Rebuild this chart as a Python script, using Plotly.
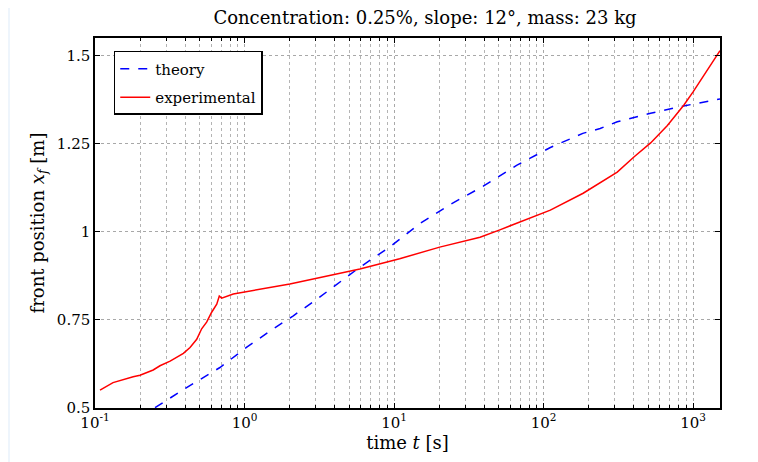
import plotly.graph_objects as go

# theory curve (blue dashed)
t_theory = [0.252, 0.41, 0.685, 1.03, 1.56, 2.12, 2.96, 3.93, 5.91, 9.35, 14.9,
            23.7, 39.5, 66, 111, 183, 239, 311, 520, 866, 1440, 1514]
x_theory = [0.501, 0.558, 0.615, 0.672, 0.725, 0.762, 0.805, 0.843, 0.900, 0.957, 1.024,
            1.078, 1.130, 1.189, 1.240, 1.280, 1.294, 1.313, 1.337, 1.358, 1.377, 1.378]

# experimental curve (red solid)
t_exp = [0.108, 0.132, 0.18, 0.2, 0.245, 0.272, 0.318, 0.361, 0.39, 0.432, 0.479,
         0.517, 0.558, 0.603, 0.652, 0.678, 0.703, 0.841, 0.981, 2.01, 5.91, 10.9,
         20.2, 37.6, 51, 111, 184, 239, 311, 402, 520, 671, 866, 1000, 1240, 1514]
x_exp = [0.551, 0.572, 0.589, 0.593, 0.608, 0.620, 0.633, 0.648, 0.655, 0.672, 0.695,
         0.725, 0.744, 0.772, 0.795, 0.818, 0.812, 0.824, 0.829, 0.852, 0.895, 0.924,
         0.957, 0.985, 1.006, 1.062, 1.110, 1.139, 1.170, 1.213, 1.253, 1.302, 1.360, 1.398, 1.460, 1.515]

x_tickvals = [0.1, 1, 10, 100, 1000]
x_ticktext = ["10<sup>-1</sup>", "10<sup>0</sup>", "10<sup>1</sup>", "10<sup>2</sup>", "10<sup>3</sup>"]
x_minorvals = [m * d for d in x_tickvals for m in range(2, 10)]
y_tickvals = [0.5, 0.75, 1.0, 1.25, 1.5]
y_ticktext = ["0.5", "0.75", "1", "1.25", "1.5"]

FONT = "'DejaVu Serif', 'Liberation Serif', serif"

fig = go.Figure()
fig.add_trace(go.Scatter(
    x=t_theory, y=x_theory, name="theory", mode="lines",
    line=dict(color="#0000ff", width=1.5, dash="dash"), legendgroup="a",
))
fig.add_trace(go.Scatter(
    x=t_exp, y=x_exp, name="experimental", mode="lines",
    line=dict(color="#ff0000", width=1.5), legendgroup="b",
))

axis_common = dict(
    showline=True, linecolor="black", linewidth=1.5, mirror="ticks",
    ticks="inside", ticklen=5, tickcolor="black",
    showgrid=True, gridcolor="#a8a8a8", griddash="dot", gridwidth=1,
    zeroline=False, tickfont=dict(size=15, color="black", family=FONT),
)

fig.update_xaxes(
    type="log", range=[-1, 3.18],
    tickvals=x_tickvals, ticktext=x_ticktext,
    minor=dict(tickvals=x_minorvals, ticks="inside", ticklen=3, tickcolor="black",
               showgrid=True, gridcolor="#b4b4b4", griddash="dot"),
    title=dict(text="time <i>t</i> [s]", font=dict(size=18, family=FONT, color="black"), standoff=3),
    **axis_common,
)
fig.update_yaxes(
    range=[0.5, 1.551],
    tickvals=y_tickvals, ticktext=y_ticktext,
    title=dict(text="front position <i>x<sub>f</sub></i> [m]",
               font=dict(size=18, family=FONT, color="black"), standoff=8),
    **axis_common,
)

fig.update_layout(
    width=758, height=462,
    margin=dict(l=87, r=46, t=30, b=62),
    paper_bgcolor="#eef5fc", plot_bgcolor="white",
    font=dict(family=FONT, color="black"),
    title=dict(text="Concentration: 0.25%, slope: 12°, mass: 23 kg",
               x=0.528, xref="paper", xanchor="center", y=0.978, yanchor="middle",
               font=dict(size=18, family=FONT, color="black")),
    showlegend=True,
    legend=dict(x=0.030, y=0.965, xanchor="left", yanchor="top",
                bgcolor="white", bordercolor="black", borderwidth=1.5,
                font=dict(size=15, family=FONT, color="black"),
                traceorder="grouped", tracegroupgap=6),
    shapes=[dict(type="rect", xref="paper", yref="paper",
                 x0=-0.136, x1=1.2, y0=-0.3, y1=1.2,
                 fillcolor="white", line=dict(width=0), layer="below")],
)

fig.write_html("out.html")
